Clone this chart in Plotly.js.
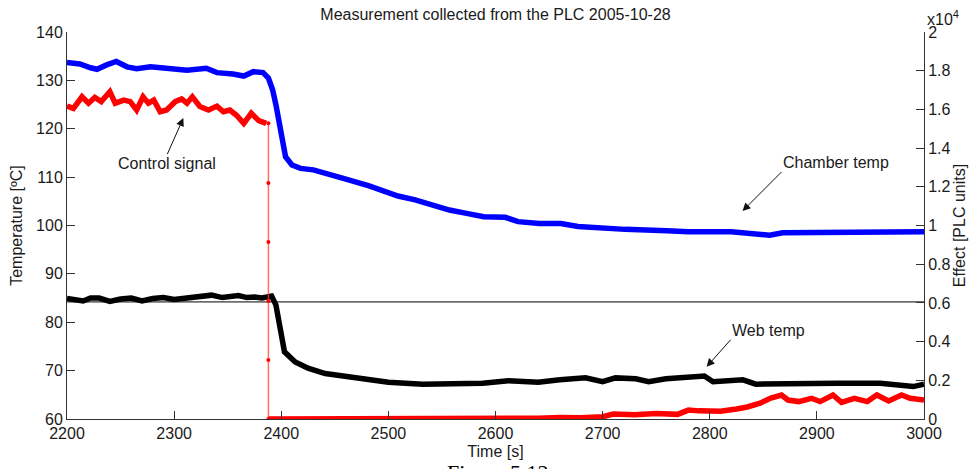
<!DOCTYPE html>
<html>
<head>
<meta charset="utf-8">
<script src="https://cdn.plot.ly/plotly-3.0.1.min.js"></script>
<style>html,body{margin:0;padding:0;background:#fff;}#chart{width:972px;height:469px;}</style>
</head>
<body>
<div id="chart"></div>
<script>
// ---- Data ----
// Chamber temp (left axis, degC)
const chamberTime = [2200,2212,2222,2228,2237,2246,2256,2265,2278,2293,2312,2330,2340,2355,2365,2374,2383,2388,2392,2395,2398,2404,2410,2418,2430,2450,2462,2482,2498,2509,2525,2541,2557,2573,2589,2609,2621,2641,2661,2677,2701,2721,2760,2780,2820,2840,2856,2868,2900,2940,2980,3000];
const chamberTemp = [133.7,133.4,132.6,132.3,133.2,133.9,132.8,132.4,132.8,132.5,132.1,132.5,131.6,131.3,130.9,131.8,131.6,130.5,128,125,121,114.2,112.5,111.8,111.5,110.4,109.5,108.2,107.0,106.1,105.3,104.2,103.2,102.5,101.8,101.7,100.8,100.4,100.4,99.8,99.4,99.2,98.9,98.7,98.7,98.4,98.0,98.5,98.6,98.7,98.7,98.7];

// Web temp (left axis, degC)
const webTime = [2200,2208,2215,2222,2230,2240,2250,2260,2270,2280,2290,2300,2310,2320,2330,2335,2345,2352,2360,2368,2375,2382,2388,2391,2395,2399,2403,2413,2425,2441,2461,2480,2500,2532,2560,2588,2612,2640,2660,2684,2700,2712,2731,2743,2759,2779,2795,2803,2831,2843,2879,2919,2959,2979,2990,3000];
const webTemp = [84.9,84.6,84.4,85.0,85.0,84.3,84.8,85.0,84.4,84.9,85.1,84.7,85.0,85.2,85.4,85.6,85.1,85.3,85.5,85.1,85.2,85.0,85.2,85.4,83.6,78.7,73.9,71.8,70.5,69.4,68.7,68.1,67.6,67.2,67.4,67.4,67.9,67.6,68.1,68.5,67.7,68.5,68.3,67.7,68.3,68.5,68.9,67.7,68.1,67.2,67.4,67.4,67.4,67.0,66.7,67.2];

// Control signal (right axis, PLC units) - before the step
const ctrlTimeBefore = [2200,2206,2214,2220,2226,2232,2240,2245,2253,2259,2265,2271,2276,2281,2287,2293,2301,2307,2312,2317,2324,2332,2340,2346,2352,2358,2365,2372,2379,2386];
const ctrlBefore = [16170,16050,16650,16320,16620,16400,16910,16320,16480,16400,15970,16650,16320,16480,15880,15970,16400,16540,16320,16650,16150,15970,16170,15880,15970,15710,15280,15800,15420,15280];
// Control signal - the step down (sampled points)
const ctrlTimeStep = [2388,2388,2388,2388,2388,2388];
const ctrlStep = [15280,12200,9150,6100,3050,0];
// Control signal - after the step
const ctrlTimeAfter = [2388,2400,2450,2500,2550,2600,2620,2640,2660,2680,2700,2710,2730,2750,2770,2780,2790,2810,2825,2835,2847,2857,2867,2873,2883,2895,2903,2915,2923,2935,2947,2956,2967,2979,2987,3000];
const ctrlAfter = [0,0,0,0,0,20,60,40,80,60,120,260,220,280,240,460,420,400,520,620,820,1080,1240,980,900,1070,900,1240,860,1070,900,1240,930,1240,1070,980];

// Reference level line (left axis)
const refTime = [2200,3000];
const refTemp = [84.2,84.2];

// Tick values / labels
const xTicks = [2200,2300,2400,2500,2600,2700,2800,2900,3000];
const leftTicks = [60,70,80,90,100,110,120,130,140];
const rightTickVals = [0,2000,4000,6000,8000,10000,12000,14000,16000,18000,20000];
const rightTickText = ['0','0.2','0.4','0.6','0.8','1','1.2','1.4','1.6','1.8','2'];

// ---- Chart ----
const FONT = 'Liberation Sans, Arial, Helvetica, sans-serif';
const TXT = '#1a1a1a';
const AX = '#333333';

const traces = [
  {x: refTime, y: refTemp, mode:'lines', line:{color:'#000', width:1}, yaxis:'y', hoverinfo:'skip', showlegend:false},
  {x: chamberTime, y: chamberTemp, mode:'lines', name:'Chamber temp', line:{color:'#0000ff', width:5.5}, yaxis:'y'},
  {x: webTime, y: webTemp, mode:'lines', name:'Web temp', line:{color:'#000000', width:5.5}, yaxis:'y'},
  {x: ctrlTimeBefore, y: ctrlBefore, mode:'lines', name:'Control signal', line:{color:'#ff0000', width:5.5}, yaxis:'y2'},
  {x: ctrlTimeStep, y: ctrlStep, mode:'lines+markers', name:'Control signal', line:{color:'rgba(255,60,60,0.75)', width:1.5}, marker:{color:'#ff0000', size:4}, yaxis:'y2', showlegend:false},
  {x: ctrlTimeAfter, y: ctrlAfter, mode:'lines', name:'Control signal', line:{color:'#ff0000', width:5.5}, yaxis:'y2', showlegend:false}
];

const arrowStyle = {showarrow:true, arrowhead:2, arrowsize:1.6, arrowwidth:1, arrowcolor:'#111', font:{family:FONT, size:16, color:TXT}, xref:'x', yref:'y', axref:'pixel', ayref:'pixel', borderpad:0};

const layout = {
  width:972, height:469,
  margin:{l:67, r:48, t:32, b:50},
  paper_bgcolor:'#fff', plot_bgcolor:'#fff',
  showlegend:false,
  font:{family:FONT, size:16, color:TXT},
  title:{text:'Measurement collected from the PLC 2005-10-28', font:{family:FONT, size:16, color:TXT}, xref:'paper', x:0.5, xanchor:'center', yref:'container', y:0.969, yanchor:'middle'},
  xaxis:{range:[2200,3000], tickvals:xTicks, ticks:'inside', ticklen:8, tickcolor:AX, showline:true, linecolor:AX, linewidth:1, showgrid:false, zeroline:false, tickfont:{size:16}, title:{text:'Time [s]', font:{size:16}, standoff:4}},
  yaxis:{range:[60,140], tickvals:leftTicks, ticks:'inside', ticklen:8, tickcolor:AX, showline:true, linecolor:AX, linewidth:1, showgrid:false, zeroline:false, tickfont:{size:16}, title:{text:'Temperature [ºC]', font:{size:16}, standoff:9}},
  yaxis2:{range:[0,20000], overlaying:'y', side:'right', tickvals:rightTickVals, ticktext:rightTickText, ticks:'inside', ticklen:8, tickcolor:AX, showline:true, linecolor:AX, linewidth:1, showgrid:false, zeroline:false, tickfont:{size:16}, title:{text:'Effect [PLC units]', font:{size:16}, standoff:0}},
  annotations:[
    Object.assign({}, arrowStyle, {text:'Control signal', x:2308.6, y:122.2, ax:-16, ay:36, xanchor:'center', yanchor:'top'}),
    Object.assign({}, arrowStyle, {text:'Chamber temp', x:2830.6, y:103.0, ax:39, ay:-39, xanchor:'left', yanchor:'bottom'}),
    Object.assign({}, arrowStyle, {text:'Web temp', x:2797.1, y:70.8, ax:24, ay:-27, xanchor:'left', yanchor:'bottom'}),
    {text:'x10<sup>4</sup>', showarrow:false, xref:'paper', yref:'paper', x:1.001, y:1.036, xanchor:'left', yanchor:'middle', font:{family:FONT, size:16, color:TXT}},
    {text:'Figure 5.12', showarrow:false, xref:'paper', yref:'paper', x:0.502, y:-0.1, xanchor:'center', yanchor:'top', font:{family:'Liberation Serif, Times New Roman, serif', size:22, color:'#000'}}
  ]
};

Plotly.newPlot('chart', traces, layout, {displayModeBar:false, staticPlot:true});
</script>
</body>
</html>
